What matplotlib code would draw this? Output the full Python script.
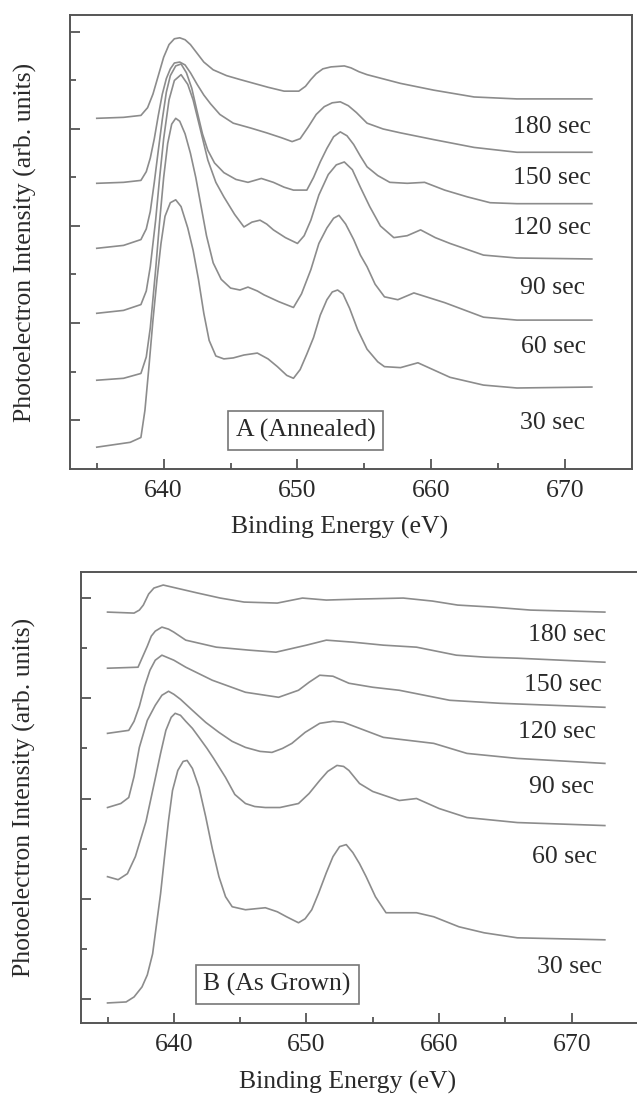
import matplotlib
matplotlib.use("Agg")
import matplotlib.pyplot as plt

# Panel A (annealed): binding energy (eV) and offset intensity (arb.) per sputter time
a_180_x = [635, 637.0, 638.3, 638.8, 639.2, 639.6, 640.0, 640.4, 640.8, 641.2, 641.6, 642.0, 642.5,
           643.0, 643.7, 644.7, 645.7, 647.8, 649.0, 650.1, 650.6, 651.0, 651.4, 651.9, 652.5,
           653.5, 654.0, 654.6, 655.2, 657.7, 660.2, 663.2, 666.4, 672.0]
a_180_y = [3.11, 3.12, 3.14, 3.22, 3.36, 3.55, 3.74, 3.87, 3.93, 3.94, 3.92, 3.87, 3.78,
           3.69, 3.61, 3.55, 3.51, 3.43, 3.39, 3.39, 3.44, 3.51, 3.57, 3.62, 3.64,
           3.65, 3.63, 3.59, 3.56, 3.47, 3.40, 3.33, 3.31, 3.31]

a_150_x = [635, 637.0, 638.3, 638.7, 639.0, 639.3, 639.6, 639.9, 640.2, 640.5, 640.8, 641.2, 641.6,
           642.0, 642.5, 643.0, 643.5, 644.2, 645.2, 646.5, 647.7, 648.8, 649.6, 650.2, 650.8,
           651.4, 652.0, 652.6, 653.2, 653.8, 654.4, 655.2, 656.4, 657.7, 660.2, 663.2, 666.4, 672.0]
a_150_y = [2.44, 2.45, 2.47, 2.56, 2.70, 2.90, 3.14, 3.36, 3.52, 3.62, 3.68, 3.69, 3.66,
           3.58, 3.46, 3.35, 3.26, 3.15, 3.06, 3.01, 2.96, 2.91, 2.87, 2.90, 3.02,
           3.15, 3.23, 3.27, 3.28, 3.24, 3.17, 3.06, 3.00, 2.96, 2.89, 2.81, 2.76, 2.76]

a_120_x = [635, 637.0, 638.3, 638.7, 639.0, 639.3, 639.6, 639.9, 640.2, 640.5, 640.9, 641.3, 641.7,
           642.1, 642.5, 642.9, 643.3, 643.8, 644.5, 645.4, 646.3, 647.3, 648.2, 649.0, 649.7,
           650.7, 651.2, 651.7, 652.2, 652.7, 653.2, 653.7, 654.2, 654.7, 655.2, 656.0, 656.9,
           658.2, 659.5, 661.0, 662.7, 664.4, 666.4, 672.0]
a_120_y = [1.77, 1.80, 1.86, 1.97, 2.15, 2.45, 2.78, 3.10, 3.38, 3.55, 3.65, 3.67, 3.58,
           3.42, 3.18, 2.95, 2.78, 2.65, 2.55, 2.48, 2.45, 2.49, 2.45, 2.40, 2.37,
           2.37, 2.50, 2.66, 2.80, 2.92, 2.97, 2.93, 2.84, 2.72, 2.61, 2.52, 2.45,
           2.44, 2.45, 2.37, 2.30, 2.24, 2.23, 2.23]

a_90_x = [635, 637.0, 638.3, 638.7, 639.0, 639.4, 639.7, 640.0, 640.4, 640.8, 641.3, 641.8, 642.2,
          642.7, 643.3, 643.9, 644.5, 645.3, 646.0, 646.6, 647.2, 647.7, 648.2, 649.1, 650.0,
          650.5, 651.0, 651.6, 652.3, 652.9, 653.5, 654.1, 654.7, 655.4, 656.2, 657.2, 658.2,
          659.2, 660.3, 661.4, 663.9, 666.4, 672.0]
a_90_y = [1.10, 1.13, 1.19, 1.33, 1.58, 2.06, 2.50, 2.90, 3.30, 3.50, 3.56, 3.46, 3.30,
          3.02, 2.68, 2.45, 2.30, 2.12, 1.99, 2.04, 2.06, 2.02, 1.96, 1.88, 1.82,
          1.90, 2.06, 2.32, 2.53, 2.63, 2.66, 2.58, 2.40, 2.20, 2.00, 1.88, 1.90,
          1.96, 1.88, 1.82, 1.70, 1.67, 1.66]

a_60_x = [635, 637.0, 638.3, 638.7, 639.0, 639.4, 639.7, 640.0, 640.3, 640.6, 640.9, 641.2, 641.6,
          642.0, 642.4, 642.8, 643.2, 643.7, 644.3, 645.0, 645.7, 646.3, 647.0, 647.5, 648.6,
          649.7, 650.3, 651.0, 651.6, 652.2, 652.7, 653.1, 653.6, 654.2, 654.7, 655.2, 655.8,
          656.5, 657.5, 658.7, 661.0, 663.9, 666.4, 672.0]
a_60_y = [0.41, 0.43, 0.48, 0.65, 0.95, 1.55, 2.05, 2.50, 2.85, 3.05, 3.11, 3.08, 2.95,
          2.75, 2.50, 2.20, 1.90, 1.62, 1.45, 1.36, 1.34, 1.37, 1.33, 1.29, 1.22,
          1.16, 1.30, 1.55, 1.82, 1.98, 2.08, 2.11, 2.02, 1.86, 1.70, 1.58, 1.40,
          1.27, 1.24, 1.31, 1.21, 1.06, 1.03, 1.03]

a_30_x = [635, 637.5, 638.3, 638.6, 638.9, 639.2, 639.5, 639.8, 640.1, 640.5, 640.9, 641.3, 641.8,
          642.2, 642.6, 643.0, 643.4, 643.9, 644.5, 645.2, 646.0, 647.0, 647.8, 648.5, 649.2,
          649.7, 650.2, 650.7, 651.2, 651.7, 652.2, 652.6, 653.0, 653.4, 653.9, 654.5, 655.2,
          656.0, 656.5, 657.7, 659.0, 661.4, 663.9, 666.4, 672.0]
a_30_y = [-0.28, -0.23, -0.18, 0.10, 0.55, 1.03, 1.45, 1.82, 2.10, 2.24, 2.27, 2.20, 1.98,
          1.75, 1.45, 1.10, 0.82, 0.66, 0.63, 0.64, 0.67, 0.69, 0.63, 0.55, 0.46,
          0.43, 0.52, 0.68, 0.85, 1.08, 1.24, 1.32, 1.34, 1.30, 1.15, 0.93, 0.73,
          0.60, 0.55, 0.54, 0.59, 0.44, 0.36, 0.33, 0.34]

# Panel B (as grown)
b_180_x = [635, 637.0, 637.4, 637.7, 638.1, 638.5, 639.2, 640.5, 641.8, 643.5, 645.3, 647.8, 649.7,
           651.5, 654.0, 657.3, 659.5, 661.4, 664.0, 666.9, 672.5]
b_180_y = [3.86, 3.85, 3.88, 3.93, 4.04, 4.10, 4.13, 4.09, 4.05, 4.00, 3.96, 3.95, 4.00,
           3.98, 3.99, 4.00, 3.97, 3.93, 3.91, 3.88, 3.86]

b_150_x = [635, 637.3, 637.6, 638.0, 638.3, 638.6, 639.1, 639.6, 640.0, 640.9, 643.2, 645.7, 647.7,
           650.0, 651.5, 653.5, 655.8, 658.3, 661.3, 663.5, 665.9, 672.5]
b_150_y = [3.30, 3.31, 3.40, 3.52, 3.62, 3.67, 3.71, 3.69, 3.66, 3.58, 3.51, 3.48, 3.46,
           3.53, 3.58, 3.56, 3.53, 3.51, 3.43, 3.41, 3.40, 3.36]

b_120_x = [635, 636.6, 637.0, 637.4, 637.8, 638.2, 638.6, 639.1, 640.0, 640.9, 642.9, 645.4, 647.9,
           649.4, 650.2, 651.0, 652.0, 653.2, 655.0, 657.0, 660.8, 664.6, 672.5]
b_120_y = [2.65, 2.68, 2.77, 2.92, 3.12, 3.28, 3.38, 3.43, 3.38, 3.31, 3.18, 3.06, 3.01,
           3.08, 3.16, 3.23, 3.22, 3.15, 3.11, 3.08, 2.98, 2.95, 2.91]

b_90_x = [635, 636.0, 636.6, 637.0, 637.4, 638.0, 638.6, 639.1, 639.6, 640.0, 640.5, 641.4, 642.4,
          643.4, 644.4, 645.4, 646.5, 647.4, 648.2, 648.9, 649.9, 651.0, 652.0, 652.8, 654.0,
          655.8, 659.6, 662.1, 665.9, 672.5]
b_90_y = [1.91, 1.95, 2.01, 2.22, 2.51, 2.78, 2.93, 3.03, 3.07, 3.04, 2.99, 2.88, 2.76,
          2.66, 2.57, 2.51, 2.47, 2.46, 2.50, 2.55, 2.66, 2.75, 2.77, 2.76, 2.70,
          2.61, 2.55, 2.45, 2.40, 2.35]

b_60_x = [635, 635.8, 636.5, 637.1, 637.9, 638.6, 639.0, 639.4, 639.8, 640.1, 640.5, 640.9, 641.4,
          641.9, 642.5, 643.0, 643.9, 644.6, 645.4, 646.1, 646.9, 648.0, 649.4, 650.2, 651.0,
          651.6, 652.3, 652.8, 653.2, 654.0, 655.0, 657.0, 658.3, 660.0, 662.1, 665.9, 672.5]
b_60_y = [1.22, 1.19, 1.25, 1.42, 1.77, 2.20, 2.45, 2.68, 2.81, 2.85, 2.83, 2.77, 2.70,
          2.61, 2.50, 2.40, 2.21, 2.04, 1.95, 1.92, 1.91, 1.91, 1.95, 2.05, 2.18,
          2.27, 2.33, 2.32, 2.28, 2.15, 2.07, 1.98, 2.00, 1.90, 1.81, 1.76, 1.73]

b_30_x = [635, 636.4, 637.0, 637.6, 638.0, 638.4, 638.7, 639.0, 639.3, 639.6, 639.9, 640.3, 640.7,
          641.0, 641.4, 641.9, 642.4, 642.9, 643.4, 643.9, 644.4, 645.4, 646.9, 647.8, 648.5,
          649.4, 649.9, 650.4, 650.9, 651.5, 652.0, 652.5, 653.0, 653.5, 654.0, 654.5, 655.2,
          656.0, 658.3, 659.6, 661.5, 663.4, 665.9, 672.5]
b_30_y = [-0.04, -0.03, 0.02, 0.12, 0.24, 0.45, 0.75, 1.05, 1.42, 1.78, 2.08, 2.28, 2.37,
          2.38, 2.30, 2.11, 1.82, 1.50, 1.22, 1.02, 0.92, 0.89, 0.91, 0.87, 0.82,
          0.76, 0.80, 0.89, 1.05, 1.26, 1.42, 1.52, 1.54, 1.46, 1.35, 1.22, 1.02,
          0.86, 0.86, 0.82, 0.72, 0.66, 0.61, 0.59]

times = ["180 sec", "150 sec", "120 sec", "90 sec", "60 sec", "30 sec"]
panel_a = [(a_180_x, a_180_y), (a_150_x, a_150_y), (a_120_x, a_120_y),
           (a_90_x, a_90_y), (a_60_x, a_60_y), (a_30_x, a_30_y)]
panel_b = [(b_180_x, b_180_y), (b_150_x, b_150_y), (b_120_x, b_120_y),
           (b_90_x, b_90_y), (b_60_x, b_60_y), (b_30_x, b_30_y)]

# label placement (right edge x, centre y in data units)
a_label_x = [671.9, 671.9, 671.9, 671.5, 671.6, 671.5]
a_label_y = [3.02, 2.49, 1.98, 1.36, 0.75, -0.03]
b_label_x = [672.6, 672.3, 671.8, 671.7, 671.9, 672.3]
b_label_y = [3.63, 3.13, 2.66, 2.11, 1.42, 0.32]

plt.rcParams['font.family'] = ['Liberation Serif', 'DejaVu Serif']
FS = 18.5
txt = '#2a2a2a'
line_col = '#8c8c8c'
spine_col = '#555555'

fig = plt.figure(figsize=(6.37, 10.99), dpi=100)
W, H = 637, 1099


def make_axes(l, r, t, b):
    return fig.add_axes([l / W, 1 - b / H, (r - l) / W, (b - t) / H])


def style(ax, ylim):
    ax.set_xlim(633, 675)
    ax.set_ylim(*ylim)
    ax.set_xticks([640, 650, 660, 670])
    ax.set_xticks([635, 645, 655, 665], minor=True)
    ax.set_yticks([0, 1, 2, 3, 4])
    ax.set_yticks([0.5, 1.5, 2.5, 3.5], minor=True)
    ax.set_yticklabels([])
    ax.tick_params(which='both', direction='in', top=False, right=False, colors=spine_col,
                   labelcolor=txt, labelsize=FS, width=1.3, pad=8)
    ax.tick_params(which='major', length=7)
    ax.tick_params(which='minor', length=4)
    for s in ax.spines.values():
        s.set_color(spine_col)
        s.set_linewidth(1.4)


ax1 = make_axes(70, 632, 15, 469)
style(ax1, (-0.505, 4.175))
for (x, y) in panel_a:
    ax1.plot(x, y, color=line_col, lw=1.2)
for lab, lx, ly in zip(times, a_label_x, a_label_y):
    ax1.text(lx, ly, lab, ha='right', va='center', fontsize=FS, color=txt)
ax1.text(650.63, -0.108, "A (Annealed)", ha='center', va='center', fontsize=FS, color=txt,
         bbox=dict(boxstyle='square,pad=0.3', fc='white', ec='#777777', lw=1.2))

ax2 = make_axes(81, 638, 572, 1023)
style(ax2, (-0.24, 4.26))
for (x, y) in panel_b:
    ax2.plot(x, y, color=line_col, lw=1.2)
for lab, lx, ly in zip(times, b_label_x, b_label_y):
    ax2.text(lx, ly, lab, ha='right', va='center', fontsize=FS, color=txt)
ax2.text(647.79, 0.145, "B (As Grown)", ha='center', va='center', fontsize=FS, color=txt,
         bbox=dict(boxstyle='square,pad=0.3', fc='white', ec='#777777', lw=1.2))

# axis titles
fig.text(340 / W, 1 - 527 / H, "Binding Energy (eV)", ha='center', va='center', fontsize=FS, color=txt)
fig.text(348 / W, 1 - 1082 / H, "Binding Energy (eV)", ha='center', va='center', fontsize=FS, color=txt)
fig.text(25 / W, 1 - 242 / H, "Photoelectron Intensity (arb. units)", rotation=90,
         ha='center', va='center', fontsize=FS, color=txt)
fig.text(24 / W, 1 - 797 / H, "Photoelectron Intensity (arb. units)", rotation=90,
         ha='center', va='center', fontsize=FS, color=txt)

fig.savefig("out.png", dpi=100)
